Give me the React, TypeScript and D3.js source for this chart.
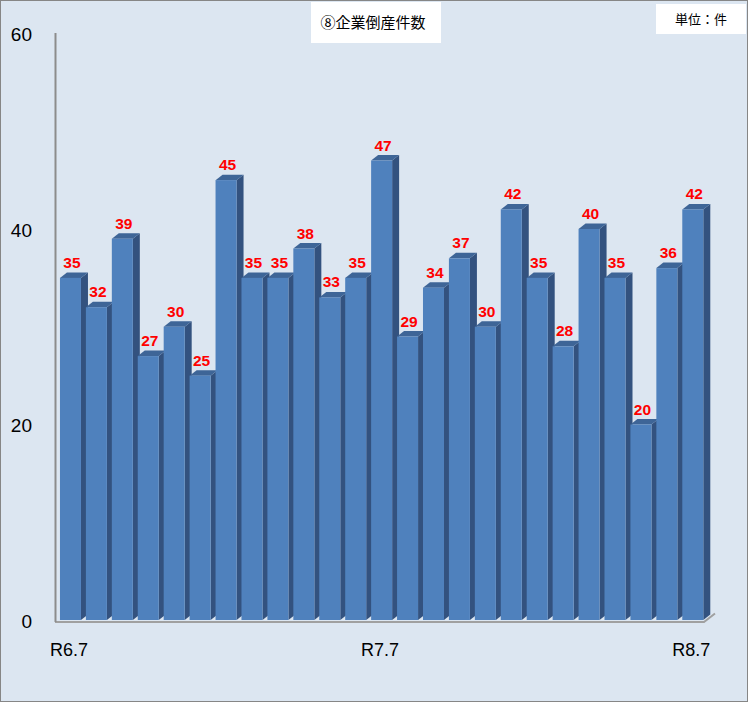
import React from 'react';
import * as d3 from 'd3';

// monthly bankruptcies R6.7 .. R8.7
const months = [
  'R6.7', 'R6.8', 'R6.9', 'R6.10', 'R6.11', 'R6.12', 'R7.1', 'R7.2', 'R7.3', 'R7.4', 'R7.5', 'R7.6',
  'R7.7', 'R7.8', 'R7.9', 'R7.10', 'R7.11', 'R7.12', 'R8.1', 'R8.2', 'R8.3', 'R8.4', 'R8.5', 'R8.6', 'R8.7',
];
const counts = [35, 32, 39, 27, 30, 25, 45, 35, 35, 38, 33, 35, 47, 29, 34, 37, 30, 42, 35, 28, 40, 35, 20, 36, 42];
const shownLabels = ['R6.7', 'R7.7', 'R8.7'];
const yTicks = [0, 20, 40, 60];
const title = '⑧企業倒産件数';
const unitLabel = '単位：件';

const W = 748;
const H = 702;
const DX = 7;
const DY = 5.5;

const App: React.FC = () => {
  const x = d3
    .scaleBand<string>()
    .domain(months)
    .range([57.5, 57.5 + 25 * 25.93])
    .paddingInner(0.19)
    .paddingOuter(0.095);

  const y = d3.scaleLinear().domain([0, 60]).range([620, 33.5]);
  const bw = x.bandwidth();

  return (
    <svg
      width={W}
      height={H}
      style={{ position: 'absolute', left: 0, top: 0, display: 'block' }}
      fontFamily="'Liberation Sans', Arial, sans-serif"
    >
      <rect x={0.5} y={0.5} width={W - 1} height={H - 1} fill="#dce6f1" stroke="#868686" />

      {/* floor */}
      <path d={`M55,622 L704,622 L715,613.5`} fill="none" stroke="#a0a0a0" strokeWidth={2} />
      <line x1={55.5} x2={55.5} y1={33} y2={622} stroke="#8c8c8c" strokeWidth={2} />

      {yTicks.map(t => (
        <text key={t} x={32} y={y(t) + 7.5} textAnchor="end" fontSize={19} fill="#000">
          {t}
        </text>
      ))}

      {months.map((m, i) => {
        const x0 = x(m) as number;
        const yt = y(counts[i]);
        const yb = y(0);
        return (
          <g key={m}>
            <path
              d={`M${x0 + bw},${yt} L${x0 + bw + DX},${yt - DY} L${x0 + bw + DX},${yb - DY} L${x0 + bw},${yb} Z`}
              fill="#33527f"
            />
            <path
              d={`M${x0},${yt} L${x0 + DX},${yt - DY} L${x0 + bw + DX},${yt - DY} L${x0 + bw},${yt} Z`}
              fill="#3e6597"
            />
            <rect x={x0} y={yt} width={bw} height={yb - yt} fill="#4f81bd" />
            <text
              x={x0 + bw / 2 + 1.5}
              y={yt - 10}
              textAnchor="middle"
              fontSize={15.5}
              fontWeight="bold"
              fill="#ff0000"
            >
              {counts[i]}
            </text>
          </g>
        );
      })}

      {shownLabels.map(m => (
        <text
          key={m}
          x={(x(m) as number) + bw / 2 - 1.5}
          y={656}
          textAnchor="middle"
          fontSize={18}
          fill="#000"
        >
          {m}
        </text>
      ))}

      <rect x={311} y={2} width={130} height={41} fill="#ffffff" />
      <text
        x={373}
        y={28}
        textAnchor="middle"
        fontSize={15}
        fontFamily="'Noto Sans CJK JP', sans-serif"
        fill="#000"
      >
        {title}
      </text>

      <rect x={656} y={4} width={90} height={30} fill="#ffffff" />
      <text
        x={701}
        y={24}
        textAnchor="middle"
        fontSize={13}
        fontFamily="'Noto Sans CJK JP', sans-serif"
        fill="#000"
      >
        {unitLabel}
      </text>
    </svg>
  );
};

export default App;
